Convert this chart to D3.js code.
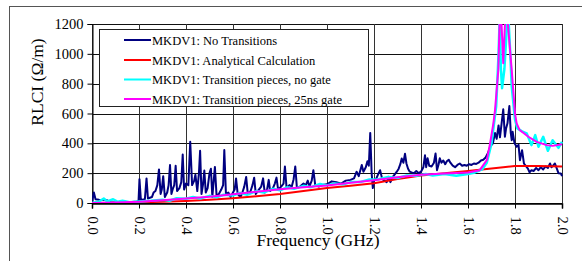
<!DOCTYPE html>
<html>
<head>
<meta charset="utf-8">
<script src="https://cdn.jsdelivr.net/npm/d3@7"></script>
<style>
  html, body { margin: 0; padding: 0; background: #fff; }
  svg { display: block; }
</style>
</head>
<body>
<svg id="chart" width="582" height="261"></svg>
<script>
// ---------- DATA ----------
const seriesNames = [
  "MKDV1: No Transitions",
  "MKDV1: Analytical Calculation",
  "MKDV1: Transition pieces, no gate",
  "MKDV1: Transition pieces, 25ns gate"
];
const seriesColors = ["#000080", "#ff0000", "#00ffff", "#ff00ff"];
const xTicks = [0.0, 0.2, 0.4, 0.6, 0.8, 1.0, 1.2, 1.4, 1.6, 1.8, 2.0];
const yTicks = [0, 200, 400, 600, 800, 1000, 1200];

// [frequency GHz, RLCI Ohm/m]
const noTransitions = [
  [0.000,10],[0.008,70],[0.015,25],[0.03,22],[0.06,20],[0.08,5],[0.12,3],[0.16,5],[0.19,10],
  [0.198,12],[0.202,160],[0.208,20],[0.225,25],[0.232,165],[0.238,30],[0.255,40],[0.262,70],
  [0.27,80],[0.278,120],[0.285,225],[0.292,60],[0.297,90],[0.303,180],[0.31,40],[0.32,70],
  [0.326,120],[0.332,255],[0.338,60],[0.345,100],[0.35,120],[0.356,250],[0.362,80],[0.372,100],
  [0.38,140],[0.386,325],[0.392,90],[0.40,130],[0.41,120],[0.418,410],[0.426,120],[0.435,150],
  [0.44,190],[0.448,80],[0.455,200],[0.46,350],[0.466,60],[0.472,120],[0.478,218],[0.484,70],
  [0.492,100],[0.50,200],[0.506,230],[0.512,40],[0.518,150],[0.523,242],[0.53,50],[0.54,60],
  [0.55,90],[0.558,120],[0.563,355],[0.57,60],[0.58,70],[0.59,40],[0.60,70],[0.607,90],
  [0.613,165],[0.62,60],[0.632,40],[0.64,70],[0.648,110],[0.656,175],[0.663,60],[0.675,80],
  [0.683,120],[0.69,170],[0.697,60],[0.71,90],[0.72,110],[0.728,165],[0.735,70],[0.745,90],
  [0.752,155],[0.758,80],[0.77,100],[0.778,130],[0.785,170],[0.792,90],[0.805,110],[0.815,130],
  [0.821,245],[0.828,100],[0.84,120],[0.85,110],[0.858,160],[0.865,245],[0.872,100],[0.885,110],
  [0.9,130],[0.91,120],[0.918,150],[0.925,110],[0.935,150],[0.942,220],[0.95,120],[0.965,110],
  [0.98,120],[1.0,125],[1.02,145],[1.04,140],[1.06,130],[1.08,150],[1.1,155],[1.115,165],
  [1.126,210],[1.135,180],[1.148,255],[1.155,210],[1.165,240],[1.172,280],[1.178,250],[1.184,470],
  [1.19,200],[1.195,100],[1.2,150],[1.21,165],[1.22,200],[1.226,220],[1.235,160],[1.245,150],
  [1.254,140],[1.262,175],[1.27,140],[1.28,175],[1.29,195],[1.297,210],[1.305,230],[1.312,260],
  [1.318,298],[1.325,270],[1.332,330],[1.338,265],[1.345,230],[1.352,210],[1.36,205],[1.37,200],
  [1.38,215],[1.39,200],[1.4,210],[1.41,240],[1.417,320],[1.422,240],[1.428,300],[1.435,250],
  [1.445,245],[1.455,270],[1.462,332],[1.468,220],[1.475,260],[1.48,300],[1.487,270],[1.495,285],
  [1.503,260],[1.51,280],[1.518,290],[1.525,270],[1.535,250],[1.545,240],[1.555,255],[1.565,265],
  [1.575,250],[1.585,255],[1.595,250],[1.605,260],[1.615,255],[1.625,265],[1.635,262],[1.645,270],
  [1.655,285],[1.665,290],[1.675,305],[1.685,335],[1.695,380],[1.706,400],[1.715,470],[1.722,430],
  [1.73,520],[1.736,440],[1.743,534],[1.75,628],[1.757,444],[1.762,500],[1.768,534],[1.776,650],
  [1.782,470],[1.786,421],[1.79,477],[1.798,400],[1.807,377],[1.815,390],[1.821,287],[1.83,354],
  [1.838,265],[1.845,250],[1.855,230],[1.862,205],[1.87,220],[1.88,215],[1.89,235],[1.9,220],
  [1.91,240],[1.92,225],[1.93,245],[1.94,235],[1.949,265],[1.955,240],[1.962,250],[1.97,265],
  [1.978,230],[1.985,200],[1.995,198],[2.0,180]
];

const analytical = [
  [0,0],[0.1,2],[0.2,5],[0.3,8],[0.4,14],[0.5,22],[0.6,32],[0.7,45],[0.8,60],[0.9,80],
  [1.0,100],[1.1,115],[1.2,132],[1.3,160],[1.4,185],[1.5,200],[1.6,215],[1.7,232],[1.75,240],
  [1.8,248],[1.9,248],[2.0,245]
];

const transNoGate = [
  [0,0],[0.03,10],[0.05,30],[0.065,10],[0.09,25],[0.11,8],[0.13,15],[0.16,5],[0.2,10],[0.25,15],
  [0.3,22],[0.33,15],[0.36,32],[0.4,28],[0.43,40],[0.46,30],[0.5,48],[0.53,38],[0.56,55],[0.6,50],
  [0.63,68],[0.66,55],[0.7,80],[0.73,70],[0.77,95],[0.8,85],[0.83,105],[0.86,95],[0.9,115],
  [0.93,105],[0.97,128],[1.0,118],[1.03,130],[1.07,125],[1.1,140],[1.14,140],[1.18,158],[1.22,160],
  [1.26,175],[1.3,168],[1.34,185],[1.38,182],[1.42,195],[1.45,185],[1.5,195],[1.55,182],[1.6,195],
  [1.63,205],[1.66,225],[1.68,270],[1.70,400],[1.72,650],[1.73,1000],[1.735,1250],[1.74,900],
  [1.745,770],[1.755,900],[1.77,1300],[1.78,1000],[1.786,780],[1.80,560],[1.81,500],[1.83,480],
  [1.85,467],[1.87,388],[1.886,455],[1.90,377],[1.92,444],[1.94,350],[1.96,421],[1.985,370],[2.0,410]
];

const transGate25 = [
  [0,0],[0.1,3],[0.2,8],[0.3,18],[0.4,30],[0.5,42],[0.6,58],[0.7,75],[0.8,92],[0.9,105],
  [1.0,118],[1.1,135],[1.2,153],[1.3,172],[1.4,190],[1.5,198],[1.6,205],[1.65,220],[1.68,287],
  [1.694,400],[1.708,534],[1.715,623],[1.729,892],[1.735,1250],[1.74,1300],[1.75,937],[1.76,1300],
  [1.767,1250],[1.786,892],[1.80,601],[1.807,534],[1.82,489],[1.857,444],[1.892,410],[1.935,388],
  [1.96,383],[2.0,394]
];

const allSeries = [noTransitions, analytical, transNoGate, transGate25];

// ---------- DRAWING ----------
const svg = d3.select("#chart");
const font = '"Liberation Serif"';
const plot = { left: 92, right: 562, top: 24, bottom: 203 };

const x = d3.scaleLinear().domain([0, 2]).range([plot.left, plot.right]);
const y = d3.scaleLinear().domain([0, 1200]).range([plot.bottom, plot.top]);

// outer chart frame
svg.append("rect")
  .attr("x", 9.5).attr("y", 6.5).attr("width", 600).attr("height", 300)
  .attr("fill", "none").attr("stroke", "#555").attr("stroke-width", 1);

// grid
const grid = svg.append("g");
grid.selectAll("line.h").data(yTicks).join("line")
  .attr("x1", plot.left).attr("x2", plot.right)
  .attr("y1", d => Math.round(y(d)) + 0.5).attr("y2", d => Math.round(y(d)) + 0.5)
  .attr("stroke", "#111").attr("stroke-width", 1);
grid.selectAll("line.v").data(xTicks).join("line")
  .attr("y1", plot.top).attr("y2", plot.bottom)
  .attr("x1", d => Math.round(x(d)) + 0.5).attr("x2", d => Math.round(x(d)) + 0.5)
  .attr("stroke", "#333").attr("stroke-width", 1);

// axes
const yAxis = svg.append("g")
  .attr("transform", `translate(${plot.left + 0.5},0)`)
  .call(d3.axisLeft(y).tickValues(yTicks).tickSize(5).tickPadding(4).tickFormat(d3.format("d")));
yAxis.attr("font-family", null);
yAxis.selectAll("text").style("font-family", font).attr("font-size", "14.5px").attr("fill", "#000");
yAxis.selectAll("line, path").attr("stroke", "#000");

const xAxis = svg.append("g")
  .attr("transform", `translate(0,${Math.round(plot.bottom) + 0.5})`)
  .call(d3.axisBottom(x).tickValues(xTicks).tickSize(5).tickFormat(d3.format(".1f")));
xAxis.attr("font-family", null);
xAxis.selectAll("line, path").attr("stroke", "#000");
xAxis.select("path").attr("stroke-width", 1.5);
xAxis.selectAll("text")
  .style("font-family", font).attr("font-size", "14.5px").attr("fill", "#000")
  .attr("text-anchor", "start").attr("dy", null).attr("y", 0)
  .attr("transform", "translate(-5,13) rotate(90)");

// clip for the series
svg.append("clipPath").attr("id", "plotclip").append("rect")
  .attr("x", plot.left).attr("y", plot.top)
  .attr("width", plot.right - plot.left + 2).attr("height", plot.bottom - plot.top);

const line = d3.line().x(d => x(d[0])).y(d => y(d[1]));
const widths = [2, 2, 2.5, 2];
svg.append("g").attr("clip-path", "url(#plotclip)")
  .selectAll("path").data(allSeries).join("path")
  .attr("d", line)
  .attr("fill", "none")
  .attr("stroke", (d, i) => seriesColors[i])
  .attr("stroke-width", (d, i) => widths[i])
  .attr("stroke-linejoin", "round");

// axis titles
svg.append("text")
  .attr("x", 318).attr("y", 246)
  .attr("text-anchor", "middle")
  .style("font-family", font).attr("font-size", "17.5px")
  .text("Frequency (GHz)");

svg.append("text")
  .attr("transform", "translate(43,82) rotate(-90)")
  .attr("text-anchor", "middle")
  .style("font-family", font).attr("font-size", "17.5px")
  .text("RLCI (Ω/m)");

// legend
const legend = svg.append("g");
legend.append("rect")
  .attr("x", 99.5).attr("y", 29.5).attr("width", 269).attr("height", 77)
  .attr("fill", "#fff").attr("stroke", "#222").attr("stroke-width", 1);
const legendY = [40, 60, 79.5, 99];
seriesNames.forEach((name, i) => {
  legend.append("line")
    .attr("x1", 124).attr("x2", 151)
    .attr("y1", legendY[i]).attr("y2", legendY[i])
    .attr("stroke", seriesColors[i]).attr("stroke-width", 2);
  legend.append("text")
    .attr("x", 152).attr("y", legendY[i] + 4.5)
    .style("font-family", font).attr("font-size", "12.5px")
    .text(name);
});
</script>
</body>
</html>
